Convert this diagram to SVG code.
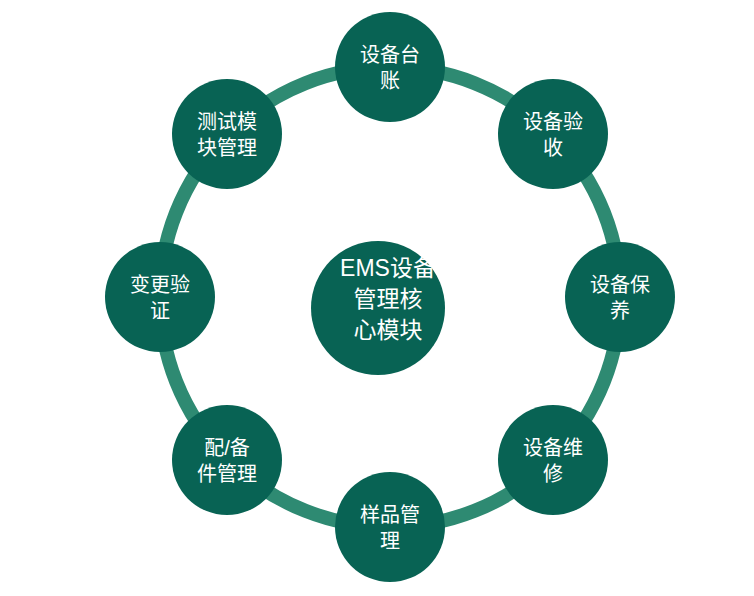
<svg xmlns="http://www.w3.org/2000/svg" width="754" height="596" viewBox="0 0 754 596">
<style>
.n{fill:#086354}
.t{fill:#fff;font-family:"Liberation Sans","Noto Sans CJK SC",sans-serif;font-size:20px;text-anchor:middle}
.c{font-size:23px}
</style>
<rect width="754" height="596" fill="#fff"/>
<g id="connectors"><circle cx="390" cy="297" r="230" fill="none" stroke="#2e8a72" stroke-width="14"/></g>
<g id="center"><circle class="n" cx="378" cy="308" r="67"/><text class="t c" x="388" y="276">EMS设备</text><text class="t c" x="388" y="307">管理核</text><text class="t c" x="388" y="338">心模块</text></g>
<g id="n1"><circle class="n" cx="390" cy="67" r="55"/><text class="t" x="390" y="62">设备台</text><text class="t" x="390" y="88">账</text></g>
<g id="n2"><circle class="n" cx="553" cy="134" r="55"/><text class="t" x="553" y="129">设备验</text><text class="t" x="553" y="155">收</text></g>
<g id="n3"><circle class="n" cx="620" cy="297" r="55"/><text class="t" x="620" y="292">设备保</text><text class="t" x="620" y="318">养</text></g>
<g id="n4"><circle class="n" cx="553" cy="460" r="55"/><text class="t" x="553" y="455">设备维</text><text class="t" x="553" y="481">修</text></g>
<g id="n5"><circle class="n" cx="390" cy="527" r="55"/><text class="t" x="390" y="522">样品管</text><text class="t" x="390" y="548">理</text></g>
<g id="n6"><circle class="n" cx="227" cy="460" r="55"/><text class="t" x="227" y="455">配/备</text><text class="t" x="227" y="481">件管理</text></g>
<g id="n7"><circle class="n" cx="160" cy="297" r="55"/><text class="t" x="160" y="292">变更验</text><text class="t" x="160" y="318">证</text></g>
<g id="n8"><circle class="n" cx="227" cy="134" r="55"/><text class="t" x="227" y="129">测试模</text><text class="t" x="227" y="155">块管理</text></g>
</svg>
